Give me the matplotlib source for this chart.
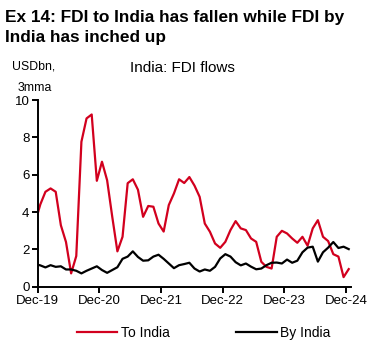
import numpy as np
import pandas as pd
import matplotlib as mpl
mpl.use('Agg')
import matplotlib.pyplot as plt

# monthly data, USDbn 3mma (Nov-19 .. Dec-24)
months = pd.period_range('2019-11', '2024-12', freq='M')
to_india = [
    3.45, 4.41, 5.09, 5.27, 5.09, 3.30, 2.40, 0.72, 1.65, 7.77, 9.02, 9.23,
    5.68, 6.70, 5.71, 3.75, 1.90, 2.68, 5.55, 5.76, 5.20, 3.75, 4.33, 4.29,
    3.39, 2.96, 4.38, 5.00, 5.76, 5.56, 5.88, 5.42, 4.82, 3.39, 2.95, 2.32,
    2.09, 2.41, 3.04, 3.52, 3.13, 3.04, 2.59, 2.41, 1.34, 1.07, 0.98, 2.68,
    3.00, 2.86, 2.59, 2.36, 2.68, 2.20, 3.13, 3.57, 2.68, 2.45, 1.75, 1.62,
    0.52, 0.95,
]
by_india = [
    1.22, 1.15, 1.04, 1.16, 1.07, 1.10, 0.93, 0.93, 0.86, 0.72, 0.86, 0.98,
    1.10, 0.90, 0.75, 0.90, 1.05, 1.50, 1.62, 1.90, 1.60, 1.40, 1.42, 1.62,
    1.72, 1.50, 1.25, 1.00, 1.16, 1.22, 1.29, 0.98, 0.82, 0.93, 0.86, 1.07,
    1.52, 1.75, 1.62, 1.32, 1.15, 1.25, 1.08, 0.94, 0.98, 1.16, 1.29, 1.30,
    1.25, 1.46, 1.29, 1.40, 1.85, 2.10, 2.15, 1.35, 1.85, 2.10, 2.40, 2.08,
    2.15, 2.02,
]
tick_labels = ['Dec-19', 'Dec-20', 'Dec-21', 'Dec-22', 'Dec-23', 'Dec-24']

mpl.rcParams['font.family'] = ['Liberation Sans', 'DejaVu Sans']

red = '#d2001e'

# month index, Dec-19 tick at 0, points centred in their month
x = np.arange(len(months)) - 1 + 0.5

fig = plt.figure(figsize=(3.81, 3.55), dpi=100)
ax = fig.add_axes([0.099, 0.192, 0.823, 0.526])

ax.plot(x, to_india, color=red, lw=1.6, label='To India', clip_on=True)
ax.plot(x, by_india, color='black', lw=1.6, label='By India', clip_on=True)

ax.set_xlim(0, 61)
ax.set_ylim(0, 10)
ax.set_xticks(np.arange(0, 61, 12))
ax.set_xticklabels(tick_labels)
ax.set_yticks(np.arange(0, 11, 2))

for s in ['top', 'right']:
    ax.spines[s].set_visible(False)
for s in ['left', 'bottom']:
    ax.spines[s].set_linewidth(1.4)
ax.tick_params(axis='both', direction='out', length=4, width=1.4,
               labelsize=9.5, pad=2)

# titles and notes
fig.text(0.013, 0.972, 'Ex 14: FDI to India has fallen while FDI by\nIndia has inched up',
         fontsize=12.4, fontweight='bold', va='top', ha='left', linespacing=1.42)
fig.text(0.032, 0.812, 'USDbn,', fontsize=8.8, ha='left', va='center')
fig.text(0.045, 0.753, '3mma', fontsize=8.8, ha='left', va='center')
fig.text(0.34, 0.808, 'India: FDI flows', fontsize=11, ha='left', va='center')

fig.legend(loc='center', bbox_to_anchor=(0.535, 0.062), ncol=2, frameon=False,
           fontsize=10, handlelength=2.9, handletextpad=0.25, columnspacing=4.8)

plt.savefig('out.png', dpi=100)
